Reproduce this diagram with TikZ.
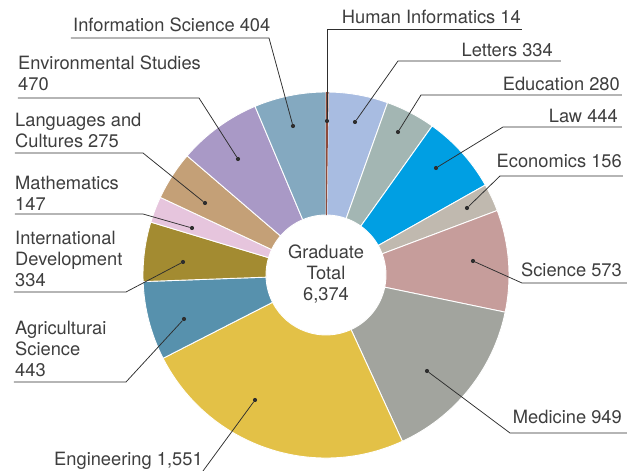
\documentclass[tikz,border=0pt]{standalone}
\usepackage{fontspec}
\setmainfont{TeX Gyre Heros}
\usepackage{tikz}
\usetikzlibrary{arrows,shapes,backgrounds,calc}

\definecolor{cText}{HTML}{3E3E3E}
\definecolor{cLine}{HTML}{2E2E2E}
\definecolor{cHum}{HTML}{8E4A3A}
\definecolor{cLet}{HTML}{A8BCE1}
\definecolor{cEdu}{HTML}{A3B6B3}
\definecolor{cLaw}{HTML}{009FE3}
\definecolor{cEco}{HTML}{C0B9AF}
\definecolor{cSci}{HTML}{C69D9B}
\definecolor{cMed}{HTML}{A2A49E}
\definecolor{cEng}{HTML}{E3C147}
\definecolor{cAgr}{HTML}{5791AD}
\definecolor{cInt}{HTML}{A38B31}
\definecolor{cMat}{HTML}{E6C5DD}
\definecolor{cLan}{HTML}{C4A077}
\definecolor{cEnv}{HTML}{A999C6}
\definecolor{cInf}{HTML}{84A9C0}

\begin{document}
\begin{tikzpicture}[x=1pt,y=1pt,
        slice/.style={draw=white,line width=0.9pt},
        dot/.style={circle,fill=cLine,inner sep=0pt,minimum size=4.2pt},
        leader/.style={draw=cLine,line width=0.75pt},
        lbl/.style={text=cText,font=\fontsize{18.3}{21}\selectfont,inner sep=0pt}]
        \useasboundingbox (-326,-196) rectangle (315,275);

        \path[slice,fill=cLet] (89.209:183pt) arc (89.209:70.345:183pt) -- (70.345:60pt) arc (70.345:89.209:60pt) -- cycle;
        \path[slice,fill=cEdu] (70.345:183pt) arc (70.345:54.531:183pt) -- (54.531:60pt) arc (54.531:70.345:60pt) -- cycle;
        \path[slice,fill=cLaw] (54.531:183pt) arc (54.531:29.454:183pt) -- (29.454:60pt) arc (29.454:54.531:60pt) -- cycle;
        \path[slice,fill=cEco] (29.454:183pt) arc (29.454:20.643:183pt) -- (20.643:60pt) arc (20.643:29.454:60pt) -- cycle;
        \path[slice,fill=cSci] (20.643:183pt) arc (20.643:-11.719:183pt) -- (-11.719:60pt) arc (-11.719:20.643:60pt) -- cycle;
        \path[slice,fill=cMed] (-11.719:183pt) arc (-11.719:-65.318:183pt) -- (-65.318:60pt) arc (-65.318:-11.719:60pt) -- cycle;
        \path[slice,fill=cEng] (-65.318:183pt) arc (-65.318:-152.917:183pt) -- (-152.917:60pt) arc (-152.917:-65.318:60pt) -- cycle;
        \path[slice,fill=cAgr] (-152.917:183pt) arc (-152.917:-177.937:183pt) -- (-177.937:60pt) arc (-177.937:-152.917:60pt) -- cycle;
        \path[slice,fill=cInt] (-177.937:183pt) arc (-177.937:-196.801:183pt) -- (-196.801:60pt) arc (-196.801:-177.937:60pt) -- cycle;
        \path[slice,fill=cMat] (-196.801:183pt) arc (-196.801:-205.104:183pt) -- (-205.104:60pt) arc (-205.104:-196.801:60pt) -- cycle;
        \path[slice,fill=cLan] (-205.104:183pt) arc (-205.104:-220.637:183pt) -- (-220.637:60pt) arc (-220.637:-205.104:60pt) -- cycle;
        \path[slice,fill=cEnv] (-220.637:183pt) arc (-220.637:-247.181:183pt) -- (-247.181:60pt) arc (-247.181:-220.637:60pt) -- cycle;
        \path[slice,fill=cInf] (-247.181:183pt) arc (-247.181:-270:183pt) -- (-270:60pt) arc (-270:-247.181:60pt) -- cycle;
        \fill[cHum] (90:183pt) arc (90:89.209:183pt) -- (89.209:60pt) arc (89.209:90:60pt) -- cycle;

        \node[lbl,align=center] (total) at (0,1) {Graduate\\Total\\6,374};

        \node[dot] (dhum) at (1,154) {};
        \coordinate (ehum) at (1,246);
        \coordinate (rhum) at (196,246);
        \node[lbl,anchor=base east] (thum) at (195,251) {Human Informatics 14};
        \draw[leader] (dhum) -- (ehum) -- (rhum);

        \node[dot] (dlet) at (29,153) {};
        \coordinate (elet) at (72,214);
        \coordinate (rlet) at (235,214);
        \node[lbl,anchor=base east] (tlet) at (227,218) {Letters 334};
        \draw[leader] (dlet) -- (elet) -- (rlet);

        \node[dot] (dedu) at (72,143) {};
        \coordinate (eedu) at (95,180);
        \coordinate (redu) at (296,180);
        \node[lbl,anchor=base east] (tedu) at (294,184) {Education 280};
        \draw[leader] (dedu) -- (eedu) -- (redu);

        \node[dot] (dlaw) at (110,107) {};
        \coordinate (elaw) at (177,148);
        \coordinate (rlaw) at (296,148);
        \node[lbl,anchor=base east] (tlaw) at (292,152) {Law 444};
        \draw[leader] (dlaw) -- (elaw) -- (rlaw);

        \node[dot] (deco) at (141,67) {};
        \coordinate (eeco) at (174,99);
        \coordinate (reco) at (297,99);
        \node[lbl,anchor=base east] (teco) at (296,107) {Economics 156};
        \draw[leader] (deco) -- (eeco) -- (reco);

        \node[dot] (dsci) at (147,14) {};
        \coordinate (esci) at (196,-8);
        \coordinate (rsci) at (301,-8);
        \node[lbl,anchor=base east] (tsci) at (296,-2) {Science 573};
        \draw[leader] (dsci) -- (esci) -- (rsci);

        \node[dot] (dmed) at (101,-96) {};
        \coordinate (emed) at (184,-158);
        \coordinate (rmed) at (301,-158);
        \node[lbl,anchor=base east] (tmed) at (296,-149) {Medicine 949};
        \draw[leader] (dmed) -- (emed) -- (rmed);

        \node[dot] (deng) at (-71,-125) {};
        \coordinate (eeng) at (-123,-196);
        \node[lbl,anchor=base west] (teng) at (-272,-191) {Engineering 1,551};
        \draw[leader] (deng) -- (eeng);

        \node[dot] (dagr) at (-142,-44) {};
        \coordinate (eagr) at (-200,-107);
        \coordinate (ragr) at (-312,-107);
        \node[lbl,anchor=south west,align=left] (tagr) at (-311,-102) {Agriculturai\\Science\\443};
        \draw[leader] (dagr) -- (eagr) -- (ragr);

        \node[dot] (dint) at (-143,13) {};
        \coordinate (eint) at (-200,-17);
        \coordinate (rint) at (-312,-17);
        \node[lbl,anchor=south west,align=left] (tint) at (-311,-12) {International\\Development\\334};
        \draw[leader] (dint) -- (eint) -- (rint);

        \node[dot] (dmat) at (-134,47) {};
        \coordinate (emat) at (-183,61);
        \coordinate (rmat) at (-311,61);
        \node[lbl,anchor=south west,align=left] (tmat) at (-311,64) {Mathematics\\147};
        \draw[leader] (dmat) -- (emat) -- (rmat);

        \node[dot] (dlan) at (-121,72) {};
        \coordinate (elan) at (-183,122);
        \coordinate (rlan) at (-311,122);
        \node[lbl,anchor=south west,align=left] (tlan) at (-311,127) {Languages and\\Cultures 275};
        \draw[leader] (dlan) -- (elan) -- (rlan);

        \node[dot] (denv) at (-88,116) {};
        \coordinate (eenv) at (-127,177);
        \coordinate (renv) at (-308,177);
        \node[lbl,anchor=south west,align=left] (tenv) at (-308,184) {Environmental Studies\\470};
        \draw[leader] (denv) -- (eenv) -- (renv);

        \node[dot] (dinf) at (-33,149) {};
        \coordinate (einf) at (-57,237);
        \coordinate (rinf) at (-255,237);
        \node[lbl,anchor=base west] (tinf) at (-253,243) {Information Science 404};
        \draw[leader] (dinf) -- (einf) -- (rinf);
\end{tikzpicture}
\end{document}
